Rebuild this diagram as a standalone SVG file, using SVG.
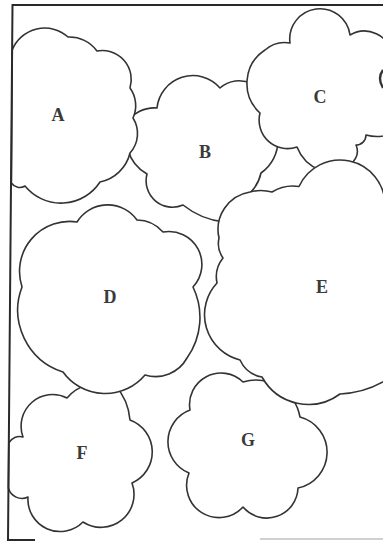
<svg xmlns="http://www.w3.org/2000/svg" width="383" height="541" viewBox="0 0 383 541">
<style>
.cloud{fill:#fff;stroke:#333;stroke-width:1.6;stroke-linejoin:round}
.lbl{font-family:"Liberation Serif","Times New Roman",serif;font-weight:bold;font-size:18px;fill:#3a3a3a;text-anchor:middle}
.frame{stroke:#2a2a2a;stroke-width:2;fill:none}
</style>
<rect x="0" y="0" width="383" height="541" fill="#fff"/>
<g id="cloud-B">
<path class="cloud" d="M126,124 A33,33 0 0 1 157,108 A36,36 0 0 1 220,88 A28,28 0 0 1 252,84 L278,140 A40,40 0 0 1 261,173 A40,40 0 0 1 250,193 L224,222 A80,80 0 0 1 183,205 A26.4,26.4 0 0 1 147,174 A40,40 0 0 1 128,150 Z"/>
<text class="lbl" x="205" y="158">B</text>
</g>
<g id="cloud-C">
<path class="cloud" d="M290,43 A30,30 0 0 1 350,35 A28,28 0 0 1 392,55 L398,130 A40,40 0 0 1 366,135 A10,10 0 0 1 356,145 A15,15 0 0 1 345,166 L320,170 A40,40 0 0 1 297,147 A28.5,28.5 0 0 1 260,113 A40,40 0 0 1 265,50 A30,30 0 0 1 290,43 Z"/>
<text class="lbl" x="320" y="103">C</text>
</g>
<g id="cloud-A">
<path class="cloud" d="M12.2,50 A35,35 0 0 1 68,37 A34,34 0 0 1 97,51 A29,29 0 0 1 130,88 A30,30 0 0 1 133,118 A29,29 0 0 1 130,153 A39,39 0 0 1 100,182 A46.5,46.5 0 0 1 25,186 A10,10 0 0 1 11.4,183 Z"/>
<text class="lbl" x="58" y="121">A</text>
</g>
<g id="cloud-F">
<path class="cloud" d="M8.8,443 A12,12 0 0 1 23,437 A31.6,31.6 0 0 1 67,398 A40,40 0 0 1 87,385 L115,385 A60,60 0 0 1 130,420 A34,34 0 0 1 132,483 A33,33 0 0 1 83,522 A32.2,32.2 0 0 1 28,497 A14,14 0 0 1 8.4,488 Z"/>
<text class="lbl" x="82" y="459">F</text>
</g>
<g id="cloud-D">
<path class="cloud" d="M77,222 A36,36 0 0 1 137,220 A35,35 0 0 1 163,232 A33,33 0 0 1 193,287 A70,70 0 0 1 187,358 A36,36 0 0 1 145,375 A52,52 0 0 1 63,372 A65,65 0 0 1 22,287 A50,50 0 0 1 77,222 Z"/>
<text class="lbl" x="110" y="303">D</text>
</g>
<g id="cloud-G">
<path class="cloud" d="M243,382 A45,45 0 0 1 300,417 A36.5,36.5 0 0 1 298,488 A31.2,31.2 0 0 1 243,507 A32.4,32.4 0 0 1 189,473 A33.8,33.8 0 0 1 190,410 A31.5,31.5 0 0 1 243,382 Z"/>
<text class="lbl" x="248" y="446">G</text>
</g>
<g id="cloud-E">
<path class="cloud" d="M250,192 A40,40 0 0 1 272,192 A40,40 0 0 1 299,186.5 A45,45 0 0 1 385,205 L400,212 L400,370 A100,100 0 0 1 340,394 A53,53 0 0 1 262,377 A30,30 0 0 1 240,360 A46.6,46.6 0 0 1 217,283 A30,30 0 0 1 223,258 A25,25 0 0 1 219,238 A38,38 0 0 1 250,192 Z"/>
<text class="lbl" x="322" y="293">E</text>
</g>
<g id="edge-fragment">
<path d="M383,70 Q377,78 383,88" fill="none" stroke="#333" stroke-width="2.4"/>
</g>
<g id="frame">
<path class="frame" d="M383,5 L12.5,5 L8,541"/>
<path class="frame" d="M7,540 L35,540"/>
<path d="M260,539 L383,539" stroke="#d0d0d0" stroke-width="2" fill="none"/>
</g>
</svg>
